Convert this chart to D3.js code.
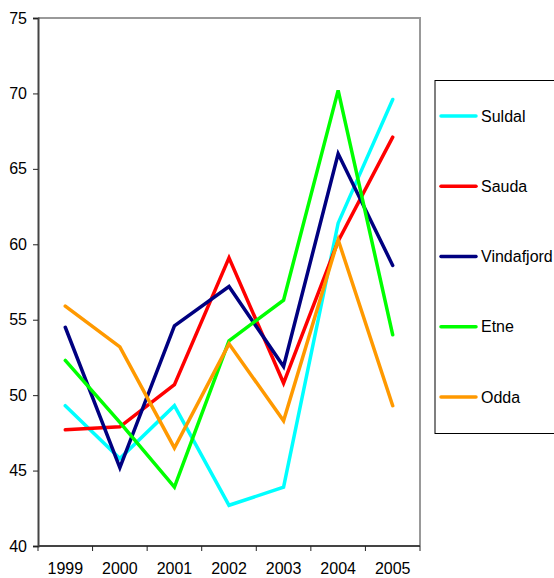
<!DOCTYPE html>
<html><head><meta charset="utf-8">
<script src="https://cdn.jsdelivr.net/npm/d3@7"></script>
<style>body{margin:0;background:#fff}svg{display:block;font-family:"Liberation Sans",Arial,sans-serif}</style>
</head><body>
<script>
const years = ["1999","2000","2001","2002","2003","2004","2005"];
const seriesNames = ["Suldal","Sauda","Vindafjord","Etne","Odda"];
const seriesColors = ["#00ffff","#ff0000","#000080","#00ff00","#ff9900"];
const suldal =     [49.3, 45.8, 49.3, 42.7, 43.9, 61.4, 69.6];
const sauda =      [47.7, 47.9, 50.7, 59.1, 50.8, 60.2, 67.1];
const vindafjord = [54.5, 45.2, 54.6, 57.2, 51.9, 66.0, 58.6];
const etne =       [52.3, 48.2, 43.9, 53.6, 56.3, 70.2, 54.0];
const odda =       [55.9, 53.2, 46.5, 53.4, 48.3, 60.3, 49.3];
const yTicks = [40,45,50,55,60,65,70,75];
const allValues = [suldal, sauda, vindafjord, etne, odda];

(function(){
const W = 554, H = 578;
const pL = 38, pR = 420, pT = 18, pB = 546;
const FS = 16;
const svg = d3.select("body").append("svg").attr("width", W).attr("height", H);

const x = d3.scaleBand().domain(years).range([pL, pR]);
const y = d3.scaleLinear().domain([40, 75]).range([pB, pT]);

svg.append("path").attr("d", `M${pL},${pT}H${pR}V${pB}`)
  .attr("fill","none").attr("stroke","#999").attr("stroke-width",2);

const ya = svg.append("g").attr("transform",`translate(${pL},0)`)
  .call(d3.axisLeft(y).tickValues(yTicks).tickSize(5).tickPadding(6));
ya.select(".domain").attr("stroke","#444").attr("stroke-width",2);
ya.selectAll(".tick line").attr("stroke","#222");
ya.selectAll("text").attr("font-size",FS).attr("fill","#000").attr("font-family","Liberation Sans, Arial, sans-serif");

const xa = svg.append("g").attr("transform",`translate(0,${pB})`)
  .call(d3.axisBottom(x).tickSize(0).tickPadding(17));
xa.select(".domain").attr("stroke","#444").attr("stroke-width",2).attr("d",`M${pL},0H${pR}`);
xa.selectAll("text").attr("font-size",FS).attr("fill","#000").attr("font-family","Liberation Sans, Arial, sans-serif");
const bounds = years.map(d => x(d)).concat([pR]);
svg.append("g").selectAll("line").data(bounds).join("line")
  .attr("x1", d => d).attr("x2", d => d).attr("y1", pB).attr("y2", pB+5)
  .attr("stroke","#222").attr("stroke-width",1);

const line = d3.line().x((d,i) => x(years[i]) + x.bandwidth()/2).y(d => y(d));
allValues.forEach((vals, k) => {
  svg.append("path").datum(vals).attr("d", line)
    .attr("fill","none").attr("stroke", seriesColors[k]).attr("stroke-width",3.5)
    .attr("stroke-linejoin","miter").attr("stroke-linecap","round");
});

svg.append("rect").attr("x",435).attr("y",80.5).attr("width",130).attr("height",353)
  .attr("fill","#fff").attr("stroke","#000").attr("stroke-width",1);
const ly = d3.scalePoint().domain(seriesNames).range([116, 397]);
seriesNames.forEach((n,k) => {
  svg.append("line").attr("x1",441).attr("x2",476).attr("y1",ly(n)).attr("y2",ly(n))
    .attr("stroke",seriesColors[k]).attr("stroke-width",3.5).attr("stroke-linecap","round");
  svg.append("text").attr("x",481).attr("y",ly(n)).attr("dy","0.35em")
    .attr("font-size",FS).text(n);
});
})();
</script>
</body></html>
